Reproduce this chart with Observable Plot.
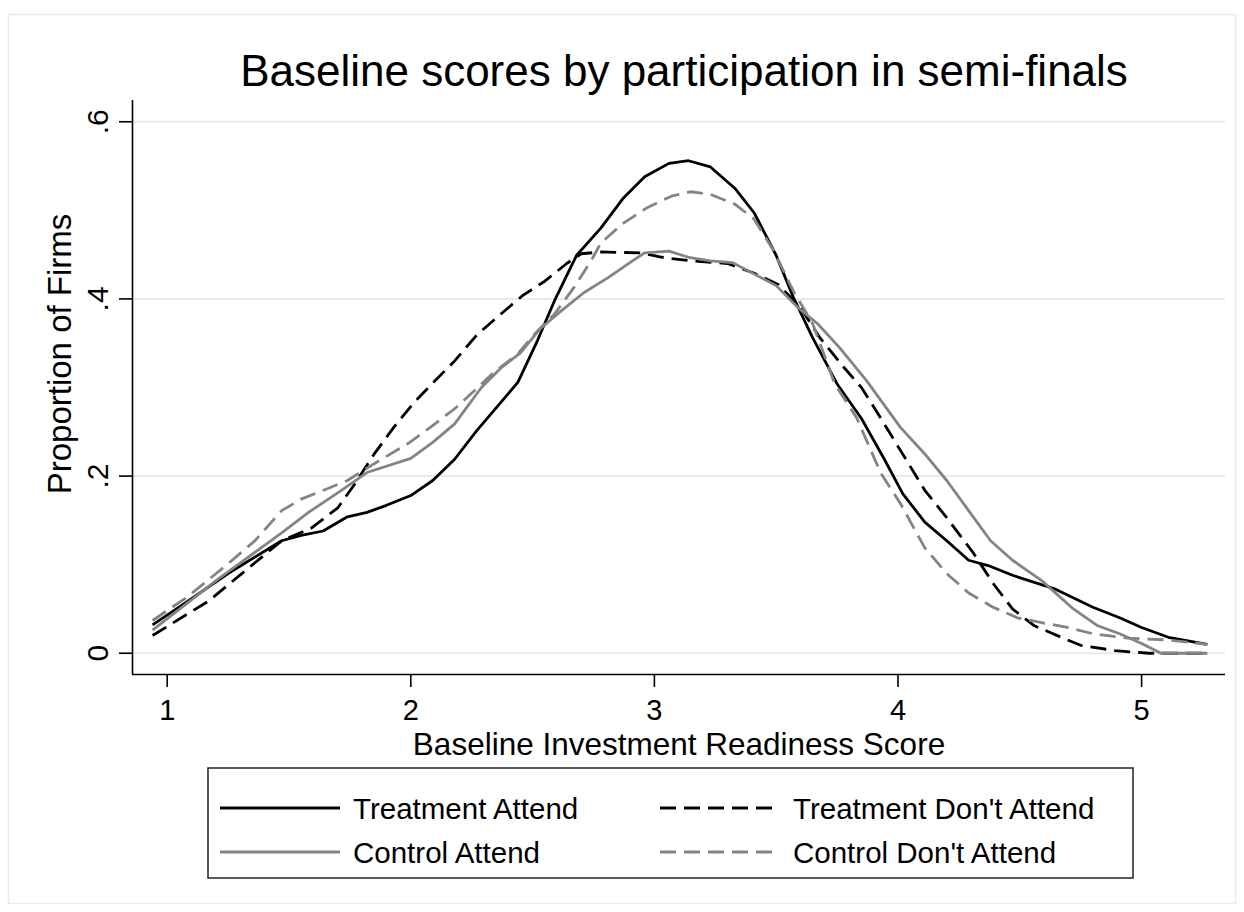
<!DOCTYPE html>
<html>
<head>
<meta charset="utf-8">
<script src="https://cdn.jsdelivr.net/npm/d3@7"></script>
<script src="https://cdn.jsdelivr.net/npm/@observablehq/plot@0.6"></script>
<style>
  html, body { margin: 0; padding: 0; background: #ffffff; }
  #wrap { position: relative; width: 1244px; height: 912px; overflow: hidden; font-family: "Liberation Sans", Arial, sans-serif; }
  #chart { position: absolute; left: 0; top: 90px; }
  #overlay { position: absolute; left: 0; top: 0; pointer-events: none; }
</style>
</head>
<body>
<div id="wrap">
  <div id="chart"></div>
  <svg id="overlay" width="1244" height="912"></svg>
</div>
<script>
// ---- Chart text ----
const titleText = "Baseline scores by participation in semi-finals";
const xTitle = "Baseline Investment Readiness Score";
const yTitle = "Proportion of Firms";

// ---- Axis ticks ----
const xTicks = [1, 2, 3, 4, 5];
const yTicks = [0, 0.2, 0.4, 0.6];
const yTickLabels = ["0", ".2", ".4", ".6"];

// ---- Series names (legend order) ----
const seriesNames = ["Treatment Attend", "Treatment Don't Attend", "Control Attend", "Control Don't Attend"];

// ---- Treatment Attend ----
const taX = [0.94, 1.07, 1.25, 1.47, 1.55, 1.64, 1.74, 1.82, 1.90, 2.00, 2.09, 2.18, 2.27, 2.36, 2.44, 2.52, 2.59, 2.68, 2.78, 2.87, 2.96, 3.06, 3.14, 3.23, 3.33, 3.41, 3.50, 3.57, 3.65, 3.75, 3.85, 3.94, 4.02, 4.11, 4.20, 4.29, 4.37, 4.47, 4.64, 4.80, 4.91, 5.00, 5.11, 5.27];
const taY = [0.032, 0.056, 0.090, 0.127, 0.133, 0.138, 0.154, 0.159, 0.167, 0.178, 0.195, 0.219, 0.251, 0.280, 0.306, 0.353, 0.398, 0.449, 0.480, 0.513, 0.538, 0.553, 0.556, 0.549, 0.525, 0.497, 0.449, 0.402, 0.356, 0.304, 0.265, 0.221, 0.180, 0.148, 0.127, 0.105, 0.099, 0.088, 0.073, 0.052, 0.040, 0.029, 0.018, 0.010];

// ---- Treatment Don't Attend ----
const tdX = [0.94, 1.17, 1.47, 1.59, 1.70, 1.77, 1.85, 1.93, 2.01, 2.09, 2.18, 2.27, 2.37, 2.46, 2.55, 2.64, 2.70, 2.78, 2.94, 3.05, 3.15, 3.30, 3.41, 3.51, 3.60, 3.68, 3.78, 3.85, 3.93, 4.01, 4.11, 4.20, 4.31, 4.39, 4.47, 4.56, 4.67, 4.75, 4.89, 5.03, 5.27];
const tdY = [0.020, 0.059, 0.127, 0.141, 0.164, 0.191, 0.225, 0.255, 0.282, 0.305, 0.330, 0.359, 0.383, 0.404, 0.420, 0.440, 0.451, 0.453, 0.452, 0.446, 0.443, 0.440, 0.429, 0.416, 0.390, 0.356, 0.322, 0.300, 0.265, 0.229, 0.184, 0.153, 0.113, 0.079, 0.050, 0.031, 0.018, 0.009, 0.003, 0.000, 0.000];

// ---- Control Attend ----
const caX = [0.94, 1.21, 1.34, 1.47, 1.58, 1.70, 1.82, 2.00, 2.09, 2.18, 2.29, 2.37, 2.45, 2.53, 2.62, 2.71, 2.81, 2.91, 2.96, 3.06, 3.14, 3.23, 3.32, 3.41, 3.50, 3.59, 3.67, 3.76, 3.87, 4.01, 4.11, 4.20, 4.29, 4.38, 4.47, 4.59, 4.72, 4.82, 4.91, 5.00, 5.08, 5.27];
const caY = [0.026, 0.084, 0.110, 0.136, 0.159, 0.181, 0.204, 0.220, 0.238, 0.259, 0.300, 0.322, 0.339, 0.366, 0.387, 0.407, 0.424, 0.443, 0.452, 0.454, 0.447, 0.443, 0.441, 0.428, 0.415, 0.390, 0.372, 0.345, 0.308, 0.255, 0.225, 0.195, 0.161, 0.127, 0.105, 0.082, 0.050, 0.031, 0.022, 0.011, 0.000, 0.000];

// ---- Control Don't Attend ----
const cdX = [0.94, 1.08, 1.25, 1.36, 1.47, 1.55, 1.66, 1.74, 1.85, 1.99, 2.08, 2.18, 2.26, 2.34, 2.44, 2.50, 2.59, 2.67, 2.74, 2.78, 2.87, 2.97, 3.07, 3.15, 3.23, 3.33, 3.41, 3.49, 3.57, 3.65, 3.71, 3.74, 3.83, 3.93, 4.01, 4.11, 4.20, 4.29, 4.39, 4.49, 4.58, 4.70, 4.80, 4.94, 5.11, 5.27];
const cdY = [0.037, 0.063, 0.101, 0.127, 0.161, 0.174, 0.186, 0.195, 0.214, 0.237, 0.255, 0.276, 0.296, 0.317, 0.338, 0.358, 0.383, 0.413, 0.443, 0.463, 0.485, 0.503, 0.516, 0.521, 0.518, 0.507, 0.490, 0.454, 0.409, 0.372, 0.327, 0.304, 0.266, 0.203, 0.169, 0.119, 0.090, 0.068, 0.052, 0.040, 0.035, 0.029, 0.022, 0.017, 0.015, 0.010];

// ---- Styles ----
const FONT = "'Liberation Sans', Arial, Helvetica, sans-serif";
const BLACK = "#000000";
const GRAY = "#848484";
const GRID = "#e5ecef";
const DASH = "16,8";
const LW = 2.8;

const styles = [
  {stroke: BLACK, dash: null},
  {stroke: BLACK, dash: DASH},
  {stroke: GRAY, dash: null},
  {stroke: GRAY, dash: DASH}
];
const xs = [taX, tdX, caX, cdX];
const ys = [taY, tdY, caY, cdY];
const tables = seriesNames.map((name, i) => xs[i].map((x, j) => ({series: name, x, y: ys[i][j]})));

// scale domains chosen so the plot frame matches the reference
const xDomain = [0.8576, 5.3444];
const yDomain = [-0.024, 0.624];

const lineMarks = tables.map((t, i) => Plot.line(t, {
  x: "x", y: "y",
  stroke: styles[i].stroke,
  strokeWidth: LW,
  strokeDasharray: styles[i].dash,
  strokeLinejoin: "round",
  strokeLinecap: "butt"
}));

const chart = Plot.plot({
  width: 1244,
  height: 680,
  marginLeft: 132,
  marginRight: 19,
  marginTop: 10,
  marginBottom: 96,
  x: {domain: xDomain},
  y: {domain: yDomain},
  style: {fontFamily: FONT, background: "transparent", color: "#000", overflow: "visible"},
  marks: [
    Plot.gridY(yTicks, {stroke: GRID, strokeOpacity: 1, strokeWidth: 2}),
    Plot.ruleX([xDomain[0]], {stroke: "#000", strokeWidth: 1.6}),
    Plot.ruleY([yDomain[0]], {stroke: "#000", strokeWidth: 1.6}),
    Plot.axisX(xTicks, {tickSize: 13, tickPadding: 12, fontSize: 29, label: null, tickFormat: d => String(d), strokeWidth: 1.6}),
    Plot.axisY(yTicks, {tickSize: 13, tickPadding: 12, tickRotate: -90, fontSize: 30, label: null,
      tickFormat: d => yTickLabels[yTicks.indexOf(d)], strokeWidth: 1.6}),
    ...lineMarks,
    Plot.text([xTitle], {frameAnchor: "bottom", lineAnchor: "bottom", dy: 80, fontSize: 31.5, fill: "#000"})
  ]
});
document.getElementById("chart").appendChild(chart);

// ---- Overlay: border, title, y title, legend ----
const svg = d3.select("#overlay");
svg.append("rect").attr("x", 8.5).attr("y", 14.5).attr("width", 1227).attr("height", 889)
  .attr("fill", "none").attr("stroke", GRID).attr("stroke-width", 1.5);

svg.append("text").attr("x", 684).attr("y", 86).attr("text-anchor", "middle")
  .attr("font-family", FONT).attr("font-size", 44).attr("fill", "#000").text(titleText);

svg.append("text").attr("transform", "translate(71,354) rotate(-90)").attr("text-anchor", "middle")
  .attr("font-family", FONT).attr("font-size", 33).attr("fill", "#000").text(yTitle);

// legend
const lg = {x: 208, y: 768, w: 925, h: 110};
svg.append("rect").attr("x", lg.x).attr("y", lg.y).attr("width", lg.w).attr("height", lg.h)
  .attr("fill", "#fff").attr("stroke", "#222").attr("stroke-width", 1.5);
const colKeyX = [220, 660];
const keyLen = 120;
const rowY = [808, 852];
seriesNames.forEach((name, i) => {
  const col = i % 2, row = Math.floor(i / 2);
  const cy = rowY[row];
  svg.append("line").attr("x1", colKeyX[col]).attr("x2", colKeyX[col] + keyLen)
    .attr("y1", cy).attr("y2", cy)
    .attr("stroke", styles[i].stroke).attr("stroke-width", LW)
    .attr("stroke-dasharray", styles[i].dash);
  svg.append("text").attr("x", colKeyX[col] + keyLen + 13).attr("y", cy + 10.5)
    .attr("font-family", FONT).attr("font-size", 29.5).attr("fill", "#000").text(name);
});
</script>
</body>
</html>
